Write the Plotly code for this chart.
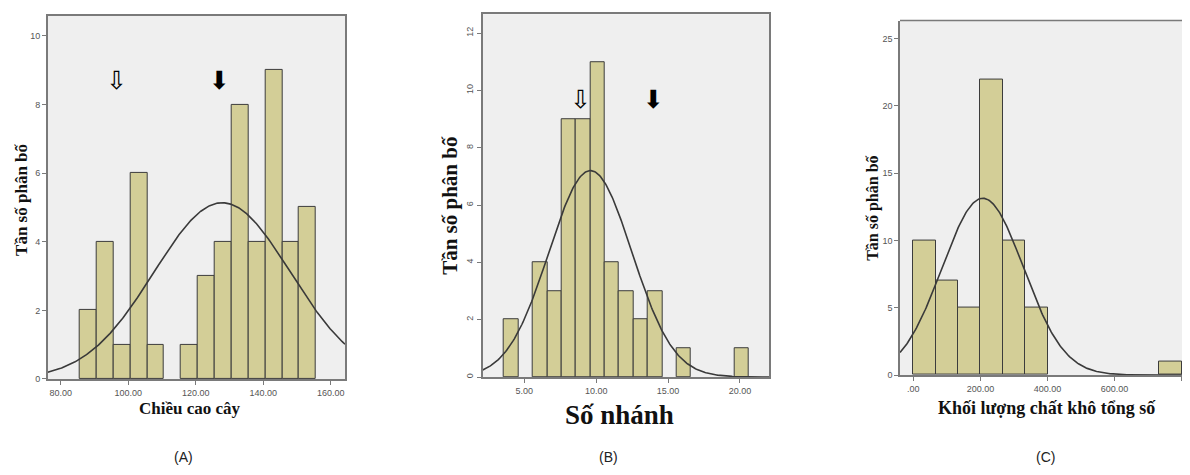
import numpy as np
import plotly.graph_objects as go

# The page body has an 8px margin, so the figure is sized/offset to fill the window.
OFF = 8
W, H = 1190 - OFF, 475 - OFF

# ---------------- data ----------------
# Panel A: Chiều cao cây
a_bin_start = 85.6
a_bin_width = 5.0
a_counts = [2, 4, 1, 6, 1, 0, 1, 3, 4, 8, 4, 9, 4, 5]
a_mean, a_sd, a_n = 127.8, 20.2, 52
a_xticks = [80, 100, 120, 140, 160]
a_xticktext = ["80.00", "100.00", "120.00", "140.00", "160.00"]
a_yticks = [0, 2, 4, 6, 8, 10]
a_arrow_white = (96.6, 8.7)
a_arrow_black = (126.9, 8.7)

# Panel B: Số nhánh
b_bin_start = 3.6
b_bin_width = 1.0
b_counts = [2, 0, 4, 3, 9, 9, 11, 4, 3, 2, 3, 0, 1, 0, 0, 0, 1]
b_mean, b_sd, b_n = 9.6, 2.88, 52
b_xticks = [5, 10, 15, 20]
b_xticktext = ["5.00", "10.00", "15.00", "20.00"]
b_yticks = [0, 2, 4, 6, 8, 10, 12]
b_arrow_white = (8.9, 9.7)
b_arrow_black = (14.0, 9.7)

# Panel C: Khối lượng chất khô tổng số
c_bin_start = 0.0
c_bin_width = 66.7
c_counts = [10, 7, 5, 22, 10, 5, 0, 0, 0, 0, 0, 1]
c_mean, c_sd, c_n = 207.0, 121.5, 60
c_xticks = [0, 200, 400, 600, 800]
c_xticktext = [".00", "200.00", "400.00", "600.00", "800.00"]
c_yticks = [0, 5, 10, 15, 20, 25]

# ---------------- layout geometry (screen pixels) ----------------
def px_dom_x(l, r):
    return [(l - OFF) / W, min(1.0, (r - OFF) / W)]

def px_dom_y(t, b):
    return [1 - (b - OFF) / H, 1 - (t - OFF) / H]

BAR_FILL = "#D3CE97"
BAR_LINE = "#3c3c3c"
CURVE = "#3a3a3a"
BG = "#EFEFEF"
AXIS = "#7a7a7a"
TICKFONT = dict(family="Liberation Sans, Arial", size=9, color="#555555")
SERIF = "Liberation Serif, Times New Roman, serif"

fig = go.Figure()

def add_panel(idx, start, width, counts, mean, sd, n, xr):
    xs, ys = [], []
    for i, c in enumerate(counts):
        if c > 0:
            xs.append(start + width * (i + 0.5))
            ys.append(c)
    suffix = "" if idx == 1 else str(idx)
    fig.add_trace(go.Bar(
        x=xs, y=ys, width=width,
        marker=dict(color=BAR_FILL, line=dict(color=BAR_LINE, width=1)),
        xaxis="x" + suffix, yaxis="y" + suffix, showlegend=False,
        hoverinfo="x+y",
    ))
    cx = np.linspace(xr[0], xr[1], 300)
    peak = n * width / (sd * np.sqrt(2 * np.pi))
    cy = peak * np.exp(-0.5 * ((cx - mean) / sd) ** 2)
    fig.add_trace(go.Scatter(
        x=cx, y=cy, mode="lines",
        line=dict(color=CURVE, width=1.6),
        xaxis="x" + suffix, yaxis="y" + suffix, showlegend=False,
        hoverinfo="skip",
    ))

a_xr = [76.1, 164.2]
b_xr = [2.11, 22.04]
c_xr = [-39.7, 824.7]

add_panel(1, a_bin_start, a_bin_width, a_counts, a_mean, a_sd, a_n, a_xr)
add_panel(2, b_bin_start, b_bin_width, b_counts, b_mean, b_sd, b_n, b_xr)
add_panel(3, c_bin_start, c_bin_width, c_counts, c_mean, c_sd, c_n, c_xr)

def xaxis(dom, rng, ticks, text, anchor, mirror=True):
    return dict(domain=dom, range=rng, tickvals=ticks, ticktext=text,
                showgrid=False, zeroline=False, showline=True,
                linecolor=AXIS, linewidth=1.5, mirror=mirror,
                ticks="outside", ticklen=4, tickcolor=AXIS,
                tickfont=TICKFONT, anchor=anchor, fixedrange=True)

def yaxis(dom, rng, ticks, anchor, mirror=True, tickangle=0):
    return dict(domain=dom, range=rng, tickvals=ticks,
                ticktext=[str(t) for t in ticks],
                showgrid=False, zeroline=False, showline=True,
                linecolor=AXIS, linewidth=1.5, mirror=mirror,
                ticks="outside", ticklen=4, tickcolor=AXIS,
                tickfont=TICKFONT, anchor=anchor, tickangle=tickangle,
                fixedrange=True)

fig.update_layout(
    width=W, height=H,
    margin=dict(l=0, r=0, t=0, b=0),
    paper_bgcolor="white",
    plot_bgcolor=BG,
    bargap=0,
    xaxis=xaxis(px_dom_x(47.7, 345), a_xr, a_xticks, a_xticktext, "y"),
    yaxis=yaxis(px_dom_y(16, 383), [0, 10.58], a_yticks, "x"),
    xaxis2=xaxis(px_dom_x(482.7, 769.3), b_xr, b_xticks, b_xticktext, "y2"),
    yaxis2=yaxis(px_dom_y(14.3, 381), [0, 12.66], b_yticks, "x2", tickangle=-90),
    xaxis3=xaxis(px_dom_x(900, 1190), c_xr, c_xticks, c_xticktext, "y3", mirror=False),
    yaxis3=yaxis(px_dom_y(20.7, 379), [0, 26.35], c_yticks, "x3", mirror=False),
)

# top frame line for panel C (right edge is outside the picture)
fig.add_shape(type="line", xref="x3 domain", yref="y3 domain", x0=0, x1=1, y0=1, y1=1,
              line=dict(color=AXIS, width=1.5))

ann = []

def paper_text(text, x, y, size, family=SERIF, angle=0, color="#111111"):
    ann.append(dict(text=text, x=(x - OFF) / W, y=1 - (y - OFF) / H,
                    xref="paper", yref="paper",
                    xanchor="center", yanchor="middle", showarrow=False,
                    textangle=angle, font=dict(family=family, size=size, color=color)))

# axis titles
paper_text("<b>Chiều cao cây</b>", 190, 413, 17)
paper_text("<b>Tần số phân bố</b>", 22, 202, 17, angle=-90)
paper_text("<b>Số nhánh</b>", 619, 419, 27)
paper_text("<b>Tần số phân bố</b>", 450, 208, 21, angle=-90)
paper_text("<b>Khối lượng chất khô tổng số</b>", 1047, 412, 18)
paper_text("<b>Tần số phân bố</b>", 873, 210, 16, angle=-90)

# panel labels
paper_text("(A)", 183, 462, 14, family="Liberation Sans, Arial", color="#222222")
paper_text("(B)", 608, 462, 14, family="Liberation Sans, Arial", color="#222222")
paper_text("(C)", 1045, 462, 14, family="Liberation Sans, Arial", color="#222222")

# arrows (data coordinates)
def arrow(xref, yref, pos, black):
    ann.append(dict(text="⬇" if black else "⇩", x=pos[0], y=pos[1], xref=xref, yref=yref,
                    xanchor="center", yanchor="middle", showarrow=False,
                    font=dict(family="DejaVu Sans", size=25, color="#000000")))

arrow("x", "y", a_arrow_white, False)
arrow("x", "y", a_arrow_black, True)
arrow("x2", "y2", b_arrow_white, False)
arrow("x2", "y2", b_arrow_black, True)

fig.update_layout(annotations=ann)

fig.write_html("out.html")
